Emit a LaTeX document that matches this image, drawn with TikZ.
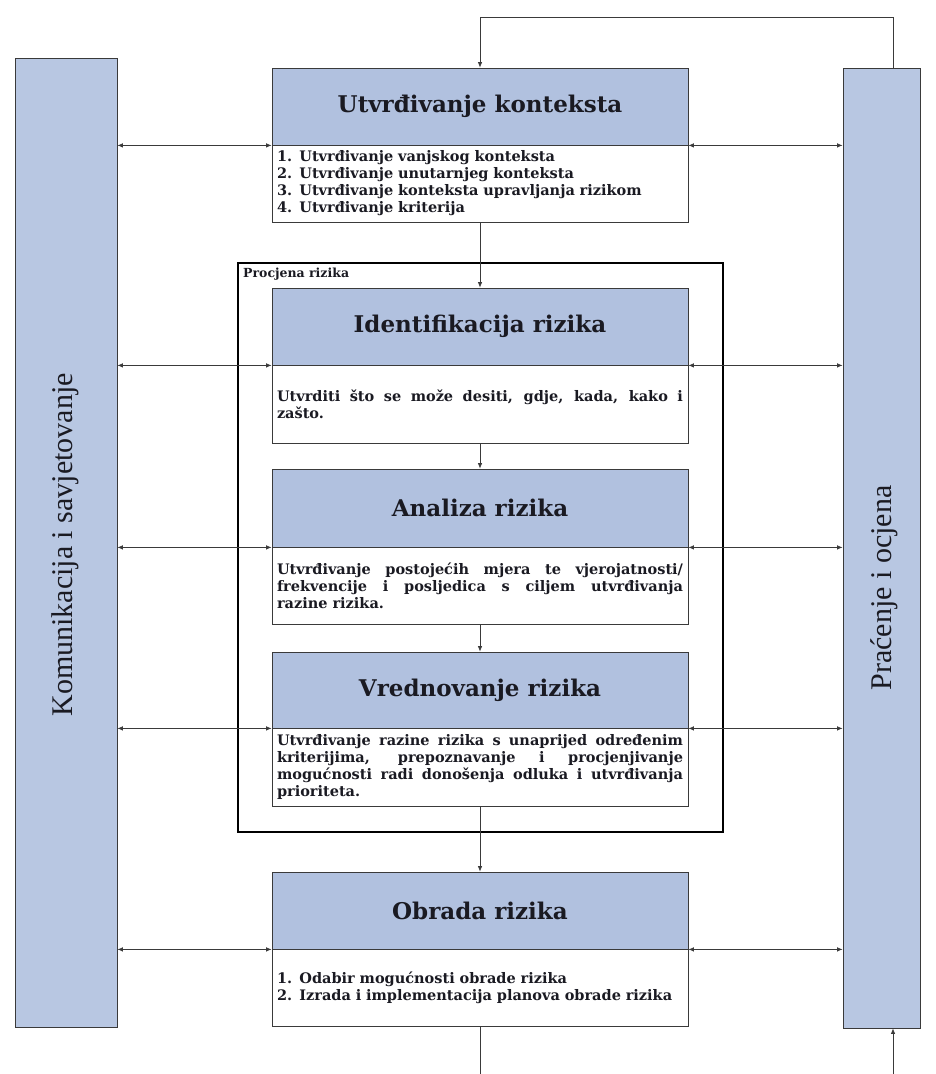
\documentclass[tikz,border=0pt]{standalone}
\usepackage{fontspec}
\setmainfont{DejaVu Serif}
\newfontfamily\sidefont{Liberation Serif}
\usetikzlibrary{arrows.meta}
\definecolor{hdrblue}{HTML}{B1C1DF}
\definecolor{barblue}{HTML}{B8C7E2}
\definecolor{edge}{HTML}{3A3A3A}
\definecolor{ink}{HTML}{1A1A22}
\tikzset{
  hdr/.style={draw=edge, line width=0.8pt, fill=hdrblue, minimum width=416pt, inner sep=0pt,
    font=\bfseries\fontsize{23}{27}\selectfont, text=ink},
  bodybox/.style={draw=edge, line width=0.8pt, fill=white, minimum width=416pt, inner xsep=5pt, inner ysep=0pt,
    text width=406pt, font=\bfseries\fontsize{14.5}{17}\selectfont, text=ink, align=justify},
  sidebar/.style={draw=edge, line width=0.8pt, fill=barblue, inner sep=0pt},
  sidetext/.style={font=\sidefont\fontsize{30}{34}\selectfont, text=ink, rotate=90},
  conn/.style={draw=edge, line width=0.7pt},
  arr/.style={conn, -{Latex[length=5.5pt,width=4.5pt]}},
  darr/.style={conn, {Latex[length=5.5pt,width=4.5pt]}-{Latex[length=5.5pt,width=4.5pt]}},
  frame/.style={draw=black, line width=2.6pt}
}
\begin{document}
\begin{tikzpicture}[x=1pt,y=-1pt]
\useasboundingbox (0,0) rectangle (935,1074);
\fill[white] (0,0) rectangle (935,1074);

% side bars
\node[sidebar, minimum width=102pt, minimum height=969pt] (lb) at (66,542.5) {};
\node[sidetext] (lbt) at (65,545) {Komunikacija i savjetovanje};
\node[sidebar, minimum width=77pt, minimum height=960pt] (rb) at (881.5,548) {};
\node[sidetext] (rbt) at (884,588) {Praćenje i ocjena};

% Procjena rizika frame
\draw[frame] (238,263) rectangle (723,832);
\node[anchor=west, font=\bfseries\fontsize{12.5}{14}\selectfont, text=ink, inner sep=0pt] (pr) at (243,274) {Procjena rizika};

% Box 1
\node[hdr, minimum height=77pt] (h1) at (480,106.5) {Utvrđivanje konteksta};
\node[bodybox, minimum height=77pt, align=left] (b1) at (480,183.5) {1. Utvrđivanje vanjskog konteksta\\2. Utvrđivanje unutarnjeg konteksta\\3. Utvrđivanje konteksta upravljanja rizikom\\4. Utvrđivanje kriterija};

% Identifikacija
\node[hdr, minimum height=77pt] (h2) at (480,326.5) {Identifikacija rizika};
\node[bodybox, minimum height=78pt] (b2) at (480,404) {Utvrditi što se može desiti, gdje, kada, kako i\linebreak zašto.};

% Analiza
\node[hdr, minimum height=78pt] (h3) at (480,508) {Analiza rizika};
\node[bodybox, minimum height=77pt] (b3) at (480,585.5) {Utvrđivanje postojećih mjera te vjerojatnosti/\linebreak frekvencije i posljedica s ciljem utvrđivanja\linebreak razine rizika.};

% Vrednovanje
\node[hdr, minimum height=76pt] (h4) at (480,690) {Vrednovanje rizika};
\node[bodybox, minimum height=78pt] (b4) at (480,767) {Utvrđivanje razine rizika s unaprijed određenim\linebreak kriterijima, prepoznavanje i procjenjivanje\linebreak mogućnosti radi donošenja odluka i utvrđivanja\linebreak prioriteta.};

% Obrada
\node[hdr, minimum height=77pt] (h5) at (480,910.5) {Obrada rizika};
\node[bodybox, minimum height=77pt, align=left] (b5) at (480,987.5) {1. Odabir mogućnosti obrade rizika\\2. Izrada i implementacija planova obrade rizika};

% vertical flow
\draw[arr] (b1.south) -- (h2.north);
\draw[arr] (b2.south) -- (h3.north);
\draw[arr] (b3.south) -- (h4.north);
\draw[arr] (b4.south) -- (h5.north);

% feedback loop at top
\coordinate (fbr) at (893,17);
\coordinate (fbl) at (480,17);
\draw[arr] (rb.north -| fbr) -- (fbr) -- (fbl) -- (h1.north);

% bottom lines
\coordinate (botl) at (480,1074);
\coordinate (botr) at (893,1074);
\draw[conn] (b5.south) -- (botl);
\draw[arr] (botr) -- (rb.south -| botr);

% horizontal double arrows
\foreach \h in {h1,h2,h3,h4,h5}{
  \draw[darr] (lb.east |- \h.south west) -- (\h.south west);
  \draw[darr] (\h.south east) -- (rb.west |- \h.south east);
}
\end{tikzpicture}
\end{document}
